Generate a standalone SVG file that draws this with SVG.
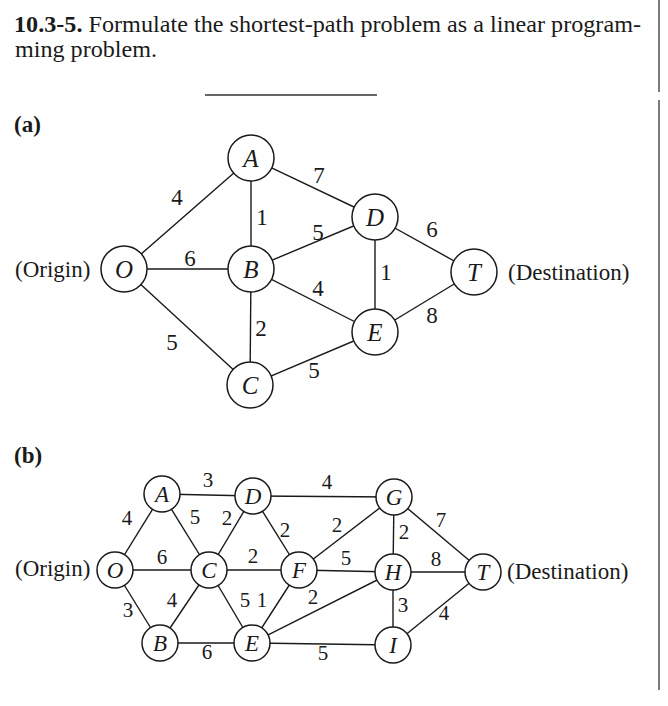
<svg xmlns="http://www.w3.org/2000/svg" width="668" height="706" viewBox="0 0 668 706">
<style>
  text { font-family: "Liberation Serif", "Times New Roman", serif; fill: #1a1a1a; }
  .title { font-size: 24px; }
  .bold { font-weight: bold; }
  .side { font-size: 23px; }
  .ea { font-size: 23px; text-anchor: middle; }
  .eb { font-size: 21px; text-anchor: middle; }
  .na { font-size: 25px; font-style: italic; text-anchor: middle; }
  .nb { font-size: 23px; font-style: italic; text-anchor: middle; }
  .edge line { stroke: #1a1a1a; stroke-width: 1.4; }
  circle { fill: #ffffff; stroke: #1a1a1a; stroke-width: 1.5; }
  .rule { stroke: #333; stroke-width: 1.3; fill: none; }
</style>
<rect width="668" height="706" fill="#ffffff"/>

<g id="header">
  <text class="title" x="14" y="32" textLength="627" lengthAdjust="spacingAndGlyphs"><tspan class="bold">10.3-5.</tspan> Formulate the shortest-path problem as a linear program-</text>
  <text class="title" x="15" y="57" textLength="142" lengthAdjust="spacingAndGlyphs">ming problem.</text>
  <line class="rule" x1="205" y1="95" x2="377" y2="95"/>
  <line class="rule" x1="659" y1="0" x2="659" y2="92"/>
  <line class="rule" x1="659" y1="100" x2="659" y2="690"/>
</g>

<!-- ============ Part (a) ============ -->
<g id="part-a-label"><text class="side bold" x="14" y="132">(a)</text></g>

<g id="connectors-a" class="edge">
  <line x1="124" y1="269" x2="251" y2="158"/>
  <line x1="124" y1="269" x2="251" y2="269"/>
  <line x1="124" y1="269" x2="250" y2="385"/>
  <line x1="251" y1="158" x2="251" y2="269"/>
  <line x1="251" y1="158" x2="375" y2="217"/>
  <line x1="251" y1="269" x2="375" y2="217"/>
  <line x1="251" y1="269" x2="375" y2="332"/>
  <line x1="251" y1="269" x2="250" y2="385"/>
  <line x1="250" y1="385" x2="375" y2="332"/>
  <line x1="375" y1="217" x2="375" y2="332"/>
  <line x1="375" y1="217" x2="474" y2="272"/>
  <line x1="375" y1="332" x2="474" y2="272"/>
</g>

<g id="edge-labels-a">
  <text class="ea" x="177" y="205">4</text>
  <text class="ea" x="319" y="183">7</text>
  <text class="ea" x="262" y="225">1</text>
  <text class="ea" x="318" y="240">5</text>
  <text class="ea" x="190" y="266">6</text>
  <text class="ea" x="318" y="296">4</text>
  <text class="ea" x="432" y="237">6</text>
  <text class="ea" x="386" y="280">1</text>
  <text class="ea" x="432" y="323">8</text>
  <text class="ea" x="172" y="350">5</text>
  <text class="ea" x="261" y="336">2</text>
  <text class="ea" x="314" y="378">5</text>
</g>

<g id="a-O"><circle cx="124" cy="269" r="23"/><text class="na" x="124" y="278">O</text></g>
<g id="a-A"><circle cx="251" cy="158" r="23"/><text class="na" x="251" y="167">A</text></g>
<g id="a-B"><circle cx="251" cy="269" r="23"/><text class="na" x="251" y="278">B</text></g>
<g id="a-C"><circle cx="250" cy="385" r="23"/><text class="na" x="250" y="394">C</text></g>
<g id="a-D"><circle cx="375" cy="217" r="23"/><text class="na" x="375" y="226">D</text></g>
<g id="a-E"><circle cx="375" cy="332" r="23"/><text class="na" x="375" y="341">E</text></g>
<g id="a-T"><circle cx="474" cy="272" r="23"/><text class="na" x="474" y="281">T</text></g>
<g id="a-origin"><text class="side" x="15" y="277">(Origin)</text></g>
<g id="a-destination"><text class="side" x="508" y="280">(Destination)</text></g>

<!-- ============ Part (b) ============ -->
<g id="part-b-label"><text class="side bold" x="14" y="463">(b)</text></g>

<g id="connectors-b" class="edge">
  <line x1="115" y1="570" x2="162" y2="494"/>
  <line x1="115" y1="570" x2="209" y2="570"/>
  <line x1="115" y1="570" x2="160" y2="643"/>
  <line x1="162" y1="494" x2="253" y2="496"/>
  <line x1="162" y1="494" x2="209" y2="570"/>
  <line x1="253" y1="496" x2="209" y2="570"/>
  <line x1="253" y1="496" x2="299" y2="570"/>
  <line x1="253" y1="496" x2="394" y2="497"/>
  <line x1="209" y1="570" x2="299" y2="570"/>
  <line x1="209" y1="570" x2="160" y2="643"/>
  <line x1="209" y1="570" x2="252" y2="643"/>
  <line x1="299" y1="570" x2="252" y2="643"/>
  <line x1="299" y1="570" x2="394" y2="497"/>
  <line x1="299" y1="570" x2="393" y2="572"/>
  <line x1="252" y1="643" x2="393" y2="572"/>
  <line x1="160" y1="643" x2="252" y2="643"/>
  <line x1="252" y1="643" x2="393" y2="645"/>
  <line x1="394" y1="497" x2="393" y2="572"/>
  <line x1="394" y1="497" x2="483" y2="572"/>
  <line x1="393" y1="572" x2="483" y2="572"/>
  <line x1="393" y1="572" x2="393" y2="645"/>
  <line x1="393" y1="645" x2="483" y2="572"/>
</g>

<g id="edge-labels-b">
  <text class="eb" x="127" y="525">4</text>
  <text class="eb" x="208" y="487">3</text>
  <text class="eb" x="195" y="524">5</text>
  <text class="eb" x="227" y="525">2</text>
  <text class="eb" x="285" y="537">2</text>
  <text class="eb" x="327" y="489">4</text>
  <text class="eb" x="337" y="532">2</text>
  <text class="eb" x="404" y="539">2</text>
  <text class="eb" x="441" y="527">7</text>
  <text class="eb" x="162" y="564">6</text>
  <text class="eb" x="253" y="563">2</text>
  <text class="eb" x="346" y="565">5</text>
  <text class="eb" x="436" y="566">8</text>
  <text class="eb" x="128" y="617">3</text>
  <text class="eb" x="172" y="607">4</text>
  <text class="eb" x="245" y="607">5</text>
  <text class="eb" x="262" y="607">1</text>
  <text class="eb" x="313" y="604">2</text>
  <text class="eb" x="403" y="612">3</text>
  <text class="eb" x="444" y="620">4</text>
  <text class="eb" x="207" y="659">6</text>
  <text class="eb" x="323" y="660">5</text>
</g>

<g id="b-O"><circle cx="115" cy="570" r="18"/><text class="nb" x="115" y="578">O</text></g>
<g id="b-A"><circle cx="162" cy="494" r="18"/><text class="nb" x="162" y="502">A</text></g>
<g id="b-B"><circle cx="160" cy="643" r="18"/><text class="nb" x="160" y="651">B</text></g>
<g id="b-C"><circle cx="209" cy="570" r="18"/><text class="nb" x="209" y="578">C</text></g>
<g id="b-D"><circle cx="253" cy="496" r="18"/><text class="nb" x="253" y="504">D</text></g>
<g id="b-E"><circle cx="252" cy="643" r="18"/><text class="nb" x="252" y="651">E</text></g>
<g id="b-F"><circle cx="299" cy="570" r="18"/><text class="nb" x="299" y="578">F</text></g>
<g id="b-G"><circle cx="394" cy="497" r="18"/><text class="nb" x="394" y="505">G</text></g>
<g id="b-H"><circle cx="393" cy="572" r="18"/><text class="nb" x="393" y="580">H</text></g>
<g id="b-I"><circle cx="393" cy="645" r="18"/><text class="nb" x="393" y="653">I</text></g>
<g id="b-T"><circle cx="483" cy="572" r="18"/><text class="nb" x="483" y="580">T</text></g>
<g id="b-origin"><text class="side" x="15" y="576">(Origin)</text></g>
<g id="b-destination"><text class="side" x="507" y="579">(Destination)</text></g>
</svg>
